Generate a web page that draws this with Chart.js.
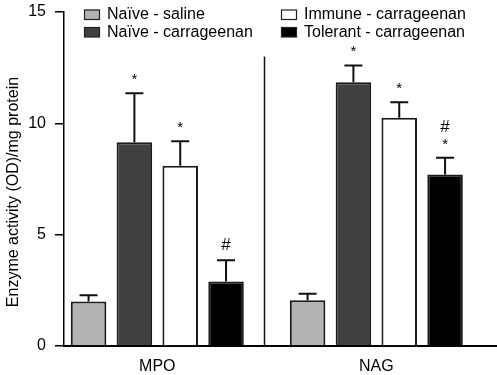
<!DOCTYPE html>
<html lang="en">
<head>
<meta charset="UTF-8">
<title>Enzyme activity</title>
<script src="https://cdn.jsdelivr.net/npm/chart.js@4.4.0/dist/chart.umd.min.js"></script>
<style>
  html, body { margin: 0; padding: 0; background: #fff; }
  #wrap { width: 497px; height: 375px; }
</style>
</head>
<body>
<div id="wrap"><canvas id="chart"></canvas></div>
<script>
// data
var groups = ['MPO', 'NAG'];
var seriesNames = ['Naïve - saline', 'Naïve - carrageenan', 'Immune - carrageenan', 'Tolerant - carrageenan'];
var salineMean = [2.0, 2.05];
var naiveMean = [9.15, 11.85];
var immuneMean = [8.1, 10.25];
var tolerantMean = [2.9, 7.7];
var salineErr = [0.28, 0.3];
var naiveErr = [2.2, 0.75];
var immuneErr = [1.1, 0.7];
var tolerantErr = [0.95, 0.75];
// significance marks, listed bottom to top
var salineMarks = [[], []];
var naiveMarks = [['*'], ['*']];
var immuneMarks = [['*'], ['*']];
var tolerantMarks = [['#'], ['*', '#']];
var yTicks = [0, 5, 10, 15];
var yTitle = 'Enzyme activity (OD)/mg protein';

var colors = ['#b3b3b3', '#404040', '#ffffff', '#000000'];
var FONT = '"Liberation Sans", Arial, Helvetica, sans-serif';

function pts(arr) {
  return arr.map(function (v, i) { return { x: i, y: v }; });
}

var means = [salineMean, naiveMean, immuneMean, tolerantMean];
var errs = [salineErr, naiveErr, immuneErr, tolerantErr];
var marks = [salineMarks, naiveMarks, immuneMarks, tolerantMarks];

var datasets = means.map(function (m, i) {
  return {
    label: seriesNames[i],
    data: pts(m),
    err: errs[i],
    marks: marks[i],
    backgroundColor: colors[i],
    borderColor: '#1a1a1a',
    borderWidth: 2,
    categoryPercentage: 0.837,
    barPercentage: 0.775
  };
});

var extras = {
  id: 'extras',
  afterDatasetsDraw: function (chart) {
    var ctx = chart.ctx, xs = chart.scales.x, ys = chart.scales.y;
    ctx.save();

    // divider between the two assays
    var dx = Math.round(xs.getPixelForValue(0.487)) + 0.5;
    ctx.strokeStyle = '#111';
    ctx.lineWidth = 1.5;
    ctx.beginPath();
    ctx.moveTo(dx, ys.getPixelForValue(13));
    ctx.lineTo(dx, ys.bottom);
    ctx.stroke();

    // error bars (upper only) + marks
    chart.data.datasets.forEach(function (ds, di) {
      var meta = chart.getDatasetMeta(di);
      meta.data.forEach(function (bar, i) {
        var base = ys.getPixelForValue(ds.data[i].y);
        var top = ys.getPixelForValue(ds.data[i].y + ds.err[i]);
        ctx.strokeStyle = '#111';
        ctx.lineWidth = 2;
        ctx.beginPath();
        ctx.moveTo(bar.x, base);
        ctx.lineTo(bar.x, top);
        ctx.moveTo(bar.x - 9, top);
        ctx.lineTo(bar.x + 9, top);
        ctx.stroke();

        ctx.fillStyle = '#000';
        ctx.textAlign = 'center';
        ctx.textBaseline = 'alphabetic';
        ds.marks[i].forEach(function (s, k) {
          var off = (s === '#' && k === 0) ? 10 : 9;
          ctx.font = (s === '#' ? '17px ' : '15px ') + FONT;
          ctx.fillText(s, bar.x, top - off - k * 17);
        });
      });
    });

    // legend in two columns
    ctx.font = '16px ' + FONT;
    ctx.textAlign = 'left';
    ctx.textBaseline = 'alphabetic';
    chart.data.datasets.forEach(function (ds, di) {
      var bx = di < 2 ? 84 : 281;
      var by = 19 + (di % 2) * 17.5;
      ctx.fillStyle = ds.backgroundColor;
      ctx.fillRect(bx, by - 9.5, 16, 10);
      ctx.strokeStyle = '#222';
      ctx.lineWidth = 1.2;
      ctx.strokeRect(bx + 0.5, by - 9, 15, 9.5);
      ctx.fillStyle = '#000';
      ctx.fillText(ds.label, bx + 23, by);
    });

    // y axis title
    ctx.save();
    ctx.translate(14, 192);
    ctx.rotate(-Math.PI / 2);
    ctx.textAlign = 'center';
    ctx.textBaseline = 'middle';
    ctx.font = '16px ' + FONT;
    ctx.fillText(yTitle, 0, 0);
    ctx.restore();

    ctx.restore();
  }
};

new Chart(document.getElementById('chart').getContext('2d'), {
  type: 'bar',
  data: { datasets: datasets },
  plugins: [extras],
  options: {
    responsive: true,
    maintainAspectRatio: false,
    animation: false,
    layout: { padding: { top: 12, right: 0, left: 0, bottom: 0 } },
    plugins: { legend: { display: false }, tooltip: { enabled: false } },
    scales: {
      x: {
        type: 'linear',
        offset: false,
        bounds: 'data',
        min: -0.426,
        max: 1.551,
        grid: { display: false, offset: false },
        border: { display: true, color: '#000', width: 2 },
        afterBuildTicks: function (scale) {
          scale.ticks = groups.map(function (g, i) { return { value: i }; });
        },
        afterFit: function (scale) { scale.height = 29; },
        ticks: {
          color: '#000',
          font: { family: FONT, size: 16 },
          padding: 3,
          maxRotation: 0,
          callback: function (v) { return groups[v]; }
        }
      },
      y: {
        min: 0,
        max: 15,
        afterBuildTicks: function (scale) {
          scale.ticks = yTicks.map(function (v) { return { value: v }; });
        },
        afterFit: function (scale) {
          scale.width = 64;
          scale.paddingTop = 0;
          scale.paddingBottom = 0;
        },
        grid: {
          drawOnChartArea: false,
          drawTicks: true,
          tickLength: 9,
          color: '#000',
          lineWidth: 1.5
        },
        border: { display: true, color: '#000', width: 1.5 },
        ticks: {
          color: '#000',
          font: { family: FONT, size: 16 },
          padding: 9
        }
      }
    }
  }
});
</script>
</body>
</html>
